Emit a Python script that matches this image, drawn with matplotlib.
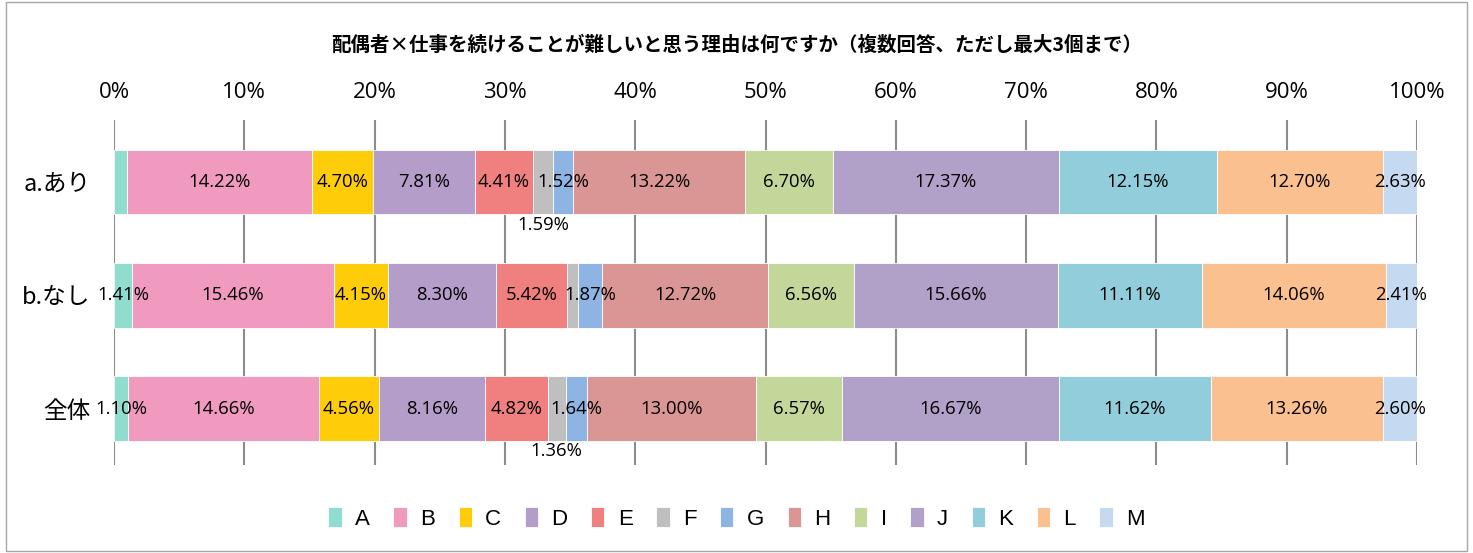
import numpy as np
import matplotlib.pyplot as plt
from matplotlib.patches import Rectangle

plt.rcParams['font.family'] = ['Noto Sans CJK JP', 'DejaVu Sans']

title = '配偶者×仕事を続けることが難しいと思う理由は何ですか（複数回答、ただし最大3個まで）'
groups = ['a.あり', 'b.なし', '全体']
items = ['A', 'B', 'C', 'D', 'E', 'F', 'G', 'H', 'I', 'J', 'K', 'L', 'M']

# percent per item, rows = groups
vals_a = [0.98, 14.22, 4.70, 7.81, 4.41, 1.59, 1.52, 13.22, 6.70, 17.37, 12.15, 12.70, 2.63]
vals_b = [1.41, 15.46, 4.15, 8.30, 5.42, 0.87, 1.87, 12.72, 6.56, 15.66, 11.11, 14.06, 2.41]
vals_all = [1.10, 14.66, 4.56, 8.16, 4.82, 1.36, 1.64, 13.00, 6.57, 16.67, 11.62, 13.26, 2.60]

colors = ['#90DCCF', '#F09ABF', '#FFCC0A', '#B59DCA', '#F08080', '#BFBFBF', '#8DB4E2',
          '#DA9694', '#C4D79B', '#B1A0C7', '#92CDDC', '#FAC090', '#C5D9F1']

# labels not shown in the original / labels put under the bar
hidden = {(0, 0), (1, 5)}
below = {(0, 5), (2, 5)}

data = np.array([vals_a, vals_b, vals_all])
numfont = ['Open Sans', 'DejaVu Sans']

fig = plt.figure(figsize=(14.73, 5.53), dpi=100)
fig.patches.append(Rectangle((0.004, 0.004), 0.992, 0.992, transform=fig.transFigure,
                             fill=False, edgecolor='#A6A6A6', lw=1))
ax = fig.add_axes([0.0774, 0.159, 0.8846, 0.624])

y = np.arange(len(groups))
left = np.zeros(len(groups))
for j, name in enumerate(items):
    ax.barh(y, data[:, j], left=left, height=0.57, color=colors[j], label=name,
            edgecolor='white', linewidth=0.6, zorder=3)
    for i in range(len(groups)):
        if (i, j) in hidden:
            continue
        xc = left[i] + data[i, j] / 2
        yy = y[i] + 0.38 if (i, j) in below else y[i]
        ax.text(xc, yy, f'{data[i, j]:.2f}%', ha='center', va='center',
                fontsize=13.3, family=numfont, zorder=5)
    left += data[:, j]

ax.set_xlim(0, 100)
ax.set_ylim(2.5, -0.55)
ax.set_xticks(np.arange(0, 101, 10))
ax.set_xticklabels([f'{v}%' for v in range(0, 101, 10)], fontsize=16, family=numfont)
ax.xaxis.tick_top()
ax.tick_params(axis='x', length=0, pad=12)
ax.set_yticks(y)
ax.set_yticklabels(groups, fontsize=17)
ax.tick_params(axis='y', length=0, pad=17)
ax.grid(axis='x', color='#8C8C8C', lw=1.5, zorder=0)
for s in ax.spines.values():
    s.set_visible(False)

fig.text(0.5, 0.918, title, ha='center', va='center', fontsize=14, fontweight='bold')

fig.legend(loc='center', bbox_to_anchor=(0.5, 0.062), ncol=13, frameon=False,
           handlelength=0.6, handleheight=1.0, handletextpad=0.6, columnspacing=1.06,
           prop={'family': ['Liberation Sans', 'DejaVu Sans'], 'size': 16})

fig.savefig('out.png', dpi=100)
